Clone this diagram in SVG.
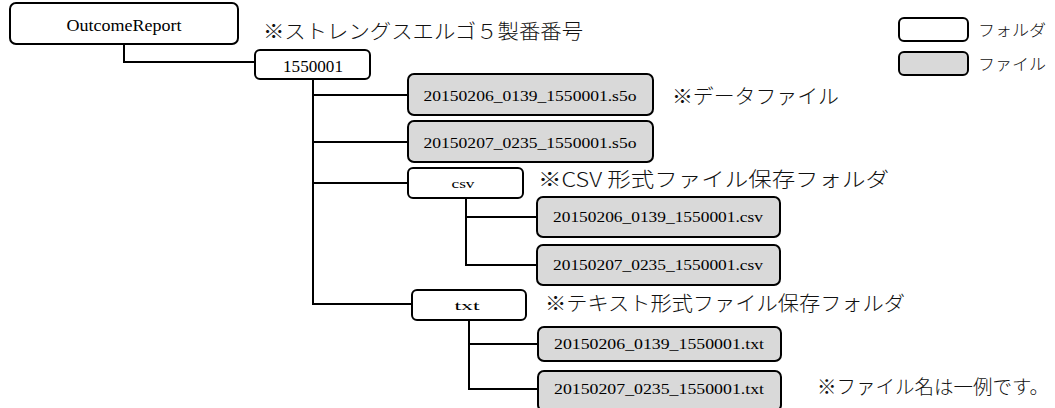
<svg xmlns="http://www.w3.org/2000/svg" width="1055" height="408" viewBox="0 0 1055 408">
<style>
.folder{fill:#ffffff;stroke:#000;stroke-width:2}
.file{fill:#d9d9d9;stroke:#000;stroke-width:2}
.lbl{font-family:"Liberation Serif","Noto Sans CJK JP",serif;fill:#000;text-anchor:middle}
.note{font-family:"Noto Sans CJK JP",sans-serif;fill:#111;font-size:20px;font-weight:300}
.leg{font-family:"Noto Sans CJK JP",sans-serif;fill:#111;font-size:16px;font-weight:300}
.conn{fill:none;stroke:#000;stroke-width:2}
</style>
<rect width="1055" height="408" fill="#fff"/>
<g id="connectors" class="conn">
<path d="M124,44 V62 H255"/>
<path d="M313,79 V304 H412"/>
<path d="M313,95 H408"/>
<path d="M313,142 H408"/>
<path d="M313,183 H408"/>
<path d="M466,198 V265 H537"/>
<path d="M466,217 H537"/>
<path d="M469,320 V389 H538"/>
<path d="M469,344 H538"/>
</g>
<g id="n-outcome"><rect class="folder" x="10" y="3" width="228" height="41" rx="6"/><text class="lbl" x="124" y="31" font-size="16" textLength="115" lengthAdjust="spacingAndGlyphs">OutcomeReport</text></g>
<g id="n-1550001"><rect class="folder" x="255" y="50" width="115" height="29" rx="5"/><text class="lbl" x="313" y="72" font-size="16" textLength="60" lengthAdjust="spacingAndGlyphs">1550001</text></g>
<g id="n-s5o1"><rect class="file" x="408" y="74" width="245" height="41" rx="6"/><text class="lbl" x="530" y="101" font-size="15.5" textLength="213" lengthAdjust="spacingAndGlyphs">20150206_0139_1550001.s5o</text></g>
<g id="n-s5o2"><rect class="file" x="408" y="121" width="245" height="41" rx="6"/><text class="lbl" x="530" y="148" font-size="15.5" textLength="213" lengthAdjust="spacingAndGlyphs">20150207_0235_1550001.s5o</text></g>
<g id="n-csv"><rect class="folder" x="408" y="168" width="115" height="30" rx="5"/><text class="lbl" x="463" y="188" font-size="13" textLength="23" lengthAdjust="spacingAndGlyphs">csv</text></g>
<g id="n-csv1"><rect class="file" x="537" y="197" width="243" height="40" rx="6"/><text class="lbl" x="658" y="222" font-size="14" textLength="210" lengthAdjust="spacingAndGlyphs">20150206_0139_1550001.csv</text></g>
<g id="n-csv2"><rect class="file" x="537" y="245" width="243" height="40" rx="6"/><text class="lbl" x="658" y="270" font-size="14" textLength="210" lengthAdjust="spacingAndGlyphs">20150207_0235_1550001.csv</text></g>
<g id="n-txt"><rect class="folder" x="412" y="290" width="114" height="30" rx="5"/><text class="lbl" x="467" y="310" font-size="13" textLength="25" lengthAdjust="spacingAndGlyphs">txt</text></g>
<g id="n-txt1"><rect class="file" x="538" y="327" width="243" height="34" rx="6"/><text class="lbl" x="659" y="349" font-size="14" textLength="210" lengthAdjust="spacingAndGlyphs">20150206_0139_1550001.txt</text></g>
<g id="n-txt2"><rect class="file" x="538" y="371" width="243" height="40" rx="6"/><text class="lbl" x="659" y="394" font-size="14" textLength="210" lengthAdjust="spacingAndGlyphs">20150207_0235_1550001.txt</text></g>
<g id="notes">
<text class="note" x="263" y="39" textLength="320" lengthAdjust="spacingAndGlyphs">※ストレングスエルゴ５製番番号</text>
<text class="note" x="672" y="104" textLength="167" lengthAdjust="spacingAndGlyphs">※データファイル</text>
<text class="note" x="538" y="187" textLength="351" lengthAdjust="spacingAndGlyphs">※CSV 形式ファイル保存フォルダ</text>
<text class="note" x="545" y="311" textLength="360" lengthAdjust="spacingAndGlyphs">※テキスト形式ファイル保存フォルダ</text>
<text class="note" x="817" y="394" style="font-size:19px" textLength="232" lengthAdjust="spacingAndGlyphs">※ファイル名は一例です。</text>
</g>
<g id="legend">
<rect class="folder" x="899" y="18" width="69" height="23" rx="5"/>
<rect class="file" x="899" y="52" width="69" height="23" rx="5"/>
<text class="leg" x="978" y="36" textLength="68" lengthAdjust="spacingAndGlyphs">フォルダ</text>
<text class="leg" x="978" y="70" textLength="68" lengthAdjust="spacingAndGlyphs">ファイル</text>
</g>
</svg>
